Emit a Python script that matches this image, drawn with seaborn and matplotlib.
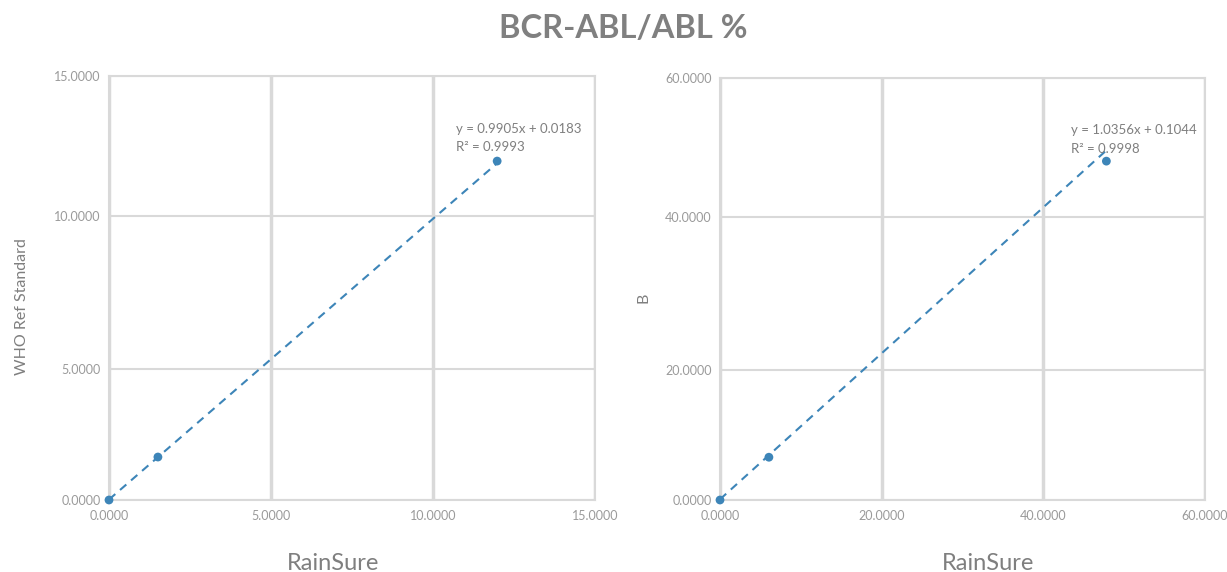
import numpy as np
import pandas as pd
import seaborn as sns
import matplotlib.pyplot as plt
from matplotlib.ticker import FormatStrFormatter

sns.set_style('white')
plt.rcParams['font.family'] = ['Lato', 'DejaVu Sans']

# data
left_x = [0.0, 1.51, 11.98]
left_y = [0.0, 1.64, 11.96]
right_x = [0.0, 6.05, 47.8]
right_y = [0.0, 6.56, 48.06]

left_ticks = [0, 5, 10, 15]
right_ticks = [0, 20, 40, 60]
# where each y tick sits on the axis (fraction of height), the source axis is uneven
tick_frac = [0.0, 0.309, 0.670, 1.0]

left_fit = (0.9905, 0.0183, 0.9993)
right_fit = (1.0356, 0.1044, 0.9998)

blue = '#3d85b8'
grid = '#d9d9d9'
tick_col = '#9a9a9a'
label_col = '#7f7f7f'

fig = plt.figure(figsize=(12.27, 5.72), dpi=100)
W, H = 1227, 572
ax1 = fig.add_axes([109 / W, 72 / H, 486 / W, 424 / H])
ax2 = fig.add_axes([720 / W, 72 / H, 485 / W, 422 / H])


def make_scale(ticks):
    pos = [f * ticks[-1] for f in tick_frac]
    fwd = lambda v: np.interp(v, ticks, pos)
    inv = lambda v: np.interp(v, pos, ticks)
    return fwd, inv


def draw(ax, xs, ys, ticks, fit, ylabel, text_xy, xlab_x, ylab_xy):
    fwd, inv = make_scale(ticks)
    ax.set_yscale('function', functions=(fwd, inv))
    df = pd.DataFrame({'x': xs, 'y': ys})
    m, b, r2 = fit
    xl = [min(xs), max(xs)]
    line = pd.DataFrame({'x': xl, 'y': [m * v + b for v in xl]})
    sns.lineplot(data=line, x='x', y='y', ax=ax, color=blue, lw=1.5,
                 linestyle=(0, (4, 3)), clip_on=False, zorder=3)
    sns.scatterplot(data=df, x='x', y='y', ax=ax, color=blue, s=40,
                    edgecolor='none', clip_on=False, zorder=4)
    ax.set_xlim(ticks[0], ticks[-1])
    ax.set_ylim(ticks[0], ticks[-1])
    ax.set_xticks(ticks)
    ax.set_yticks(ticks)
    ax.xaxis.set_major_formatter(FormatStrFormatter('%.4f'))
    ax.yaxis.set_major_formatter(FormatStrFormatter('%.4f'))
    ax.tick_params(axis='both', length=0, labelsize=9, labelcolor=tick_col)
    ax.tick_params(axis='x', pad=7)
    ax.tick_params(axis='y', pad=6)
    ax.grid(True, axis='x', color=grid, lw=2.5)
    ax.grid(True, axis='y', color=grid, lw=1.5)
    for s in ax.spines.values():
        s.set_color(grid)
        s.set_linewidth(1.5)
    ax.set_xlabel('RainSure', fontsize=17, color=label_col)
    ax.xaxis.set_label_coords(xlab_x, -0.126)
    ax.set_ylabel(ylabel, fontsize=11.5, color=label_col)
    ax.yaxis.set_label_coords(*ylab_xy)
    ax.text(text_xy[0], text_xy[1], f'y = {m:.4f}x + {b:.4f}\nR² = {r2:.4f}',
            transform=ax.transAxes, fontsize=9.5, color=label_col,
            va='top', ha='left', linespacing=1.65)


draw(ax1, left_x, left_y, left_ticks, left_fit, 'WHO Ref Standard',
     (0.715, 0.89), 0.461, (-0.165, 0.457))
draw(ax2, right_x, right_y, right_ticks, right_fit, 'B',
     (0.723, 0.89), 0.553, (-0.143, 0.478))

fig.suptitle('BCR-ABL/ABL %', x=0.508, y=0.975, fontsize=23.5, fontweight='bold', color='#808080')
fig.savefig('out.png', dpi=100)
